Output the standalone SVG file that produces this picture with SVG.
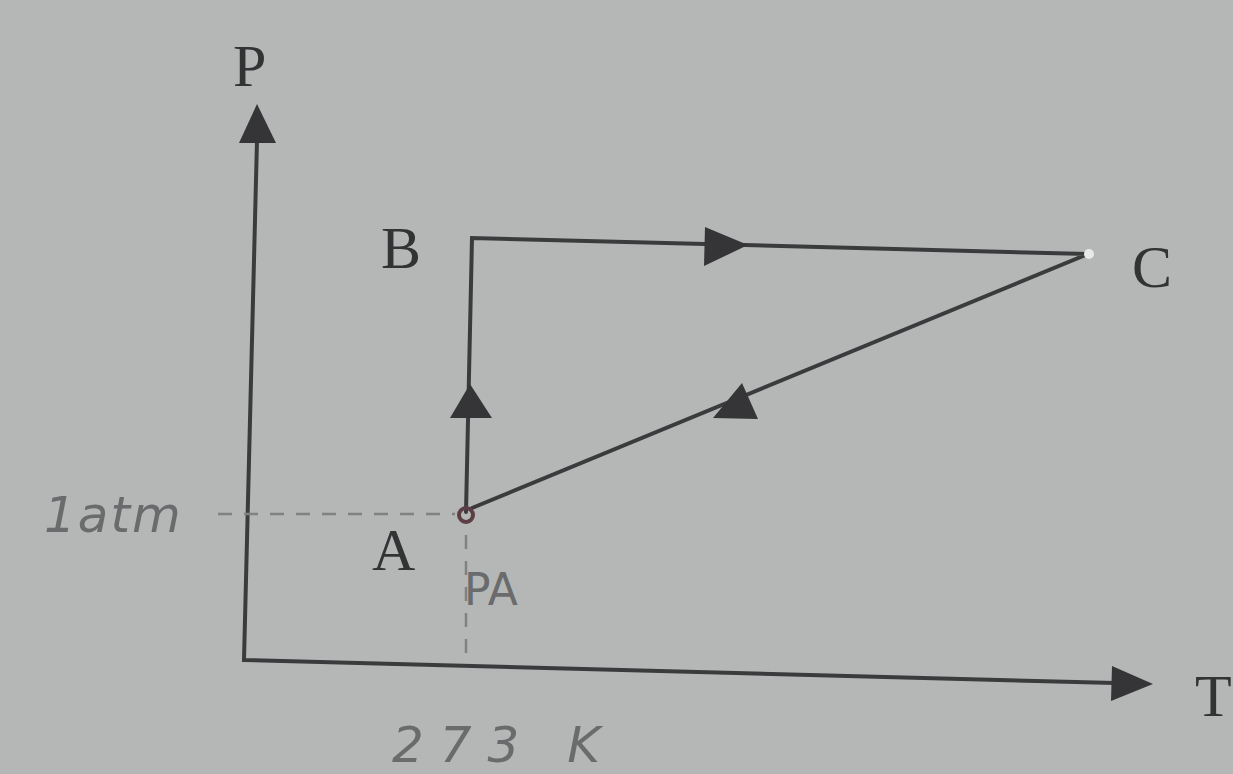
<svg xmlns="http://www.w3.org/2000/svg" width="1233" height="774" viewBox="0 0 1233 774">
<style>
.ln{stroke:#3b3b3d;stroke-width:4;fill:none;stroke-linecap:round}
.ah{fill:#353537}
.lbl{font-family:"Liberation Serif",serif;font-size:60px;fill:#333335}
.hw{font-family:"DejaVu Sans",sans-serif;fill:#6a6b6c}
.dash{stroke:#808183;stroke-width:2.5;stroke-dasharray:14 12;fill:none}
</style>
<rect width="1233" height="774" fill="#b5b7b6"/>
<g id="axes">
<path class="ln" d="M257 140 L244 660 L1115 683"/>
<polygon class="ah" points="257,104 239,143 276,143"/>
<polygon class="ah" points="1153,684 1112,666 1111,701"/>
</g>
<g id="guides">
<path class="dash" d="M218 514 L455 514"/>
<path class="dash" d="M466 535 L466 660"/>
</g>
<g id="connectors">
<path class="ln" d="M466 512 L472 238 L1088 254 L472 508"/>
<polygon class="ah" points="470,384 450,418 492,418"/>
<polygon class="ah" points="748,245 705,227 704,266"/>
<polygon class="ah" points="713,418 758,419 742,383"/>
</g>
<g id="A">
<circle cx="466" cy="515" r="7" fill="none" stroke="#5c3f44" stroke-width="4"/>
<text class="lbl" x="372" y="570">A</text>
</g>
<g id="B">
<text class="lbl" x="381" y="268">B</text>
</g>
<g id="C">
<circle cx="1089" cy="254" r="5" fill="#e8e8e6"/>
<text class="lbl" x="1132" y="287">C</text>
</g>
<g id="labels">
<text class="lbl" x="233" y="86">P</text>
<text class="lbl" x="1195" y="716">T</text>
<text class="hw" x="44" y="532" font-size="50" font-style="italic" letter-spacing="2">1atm</text>
<text class="hw" x="464" y="605" font-size="44">PA</text>
<text class="hw" x="392" y="762" font-size="50" font-style="italic" letter-spacing="16">273 K</text>
</g>
</svg>
